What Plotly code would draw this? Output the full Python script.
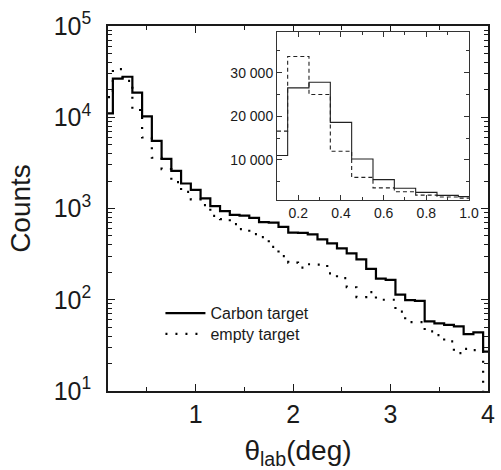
import plotly.graph_objects as go

# bin centres (deg)
theta = [round(0.1 * i, 1) for i in range(1, 41)]

carbon = [11000, 26500, 27800, 18600, 10200, 5500, 3500, 2580, 1880, 1600,
          1290, 1060, 935, 850, 835, 790, 710, 700, 630, 545,
          540, 520, 458, 414, 365, 322, 277, 218, 170, 165,
          114, 99, 97, 58, 55, 53, 51, 42, 44, 27]

empty = [16600, 33700, 25000, 12000, 6000, 3600, 2700, 1950, 1520, 1260,
         1090, 830, 765, 675, 594, 524, 485, 380, 300, 255,
         225, 245, 243, 195, 173, 137, 107, 121, 100, 100,
         74, 57, 57, 45, 41, 35, 26, 29, 28, 8]

inset_n = 10  # inset shows theta 0.1 .. 1.0 on linear scale

y_tickvals = [10, 100, 1000, 10000, 100000]
y_ticktext = ["10<sup>1</sup>", "10<sup>2</sup>", "10<sup>3</sup>", "10<sup>4</sup>", "10<sup>5</sup>"]
x_tickvals = [1, 2, 3, 4]
inset_xticks = [0.2, 0.4, 0.6, 0.8, 1.0]
inset_xtext = ["0.2", "0.4", "0.6", "0.8", "1.0"]
inset_yticks = [10000, 20000, 30000]
inset_ytext = ["10 000", "20 000", "30 000"]

FONT = "Arial, Liberation Sans, sans-serif"

fig = go.Figure()
fig.add_trace(go.Scatter(x=theta, y=carbon, mode="lines", line_shape="hvh",
                         line=dict(color="black", width=2.2),
                         name="Carbon target", xaxis="x", yaxis="y", legend="legend"))
fig.add_trace(go.Scatter(x=theta, y=empty, mode="lines", line_shape="hvh",
                         line=dict(color="black", width=2.2, dash="2px,8px"),
                         name="empty target", xaxis="x", yaxis="y", legend="legend2"))
fig.add_trace(go.Scatter(x=theta[:inset_n], y=carbon[:inset_n], mode="lines", line_shape="hvh",
                         line=dict(color="#222", width=1.1),
                         showlegend=False, xaxis="x2", yaxis="y2"))
fig.add_trace(go.Scatter(x=theta[:inset_n], y=empty[:inset_n], mode="lines", line_shape="hvh",
                         line=dict(color="#222", width=1.1, dash="4px,3px"),
                         showlegend=False, xaxis="x2", yaxis="y2"))

minor_log = [m * 10 ** e for e in range(1, 5) for m in range(2, 10)]

legend_style = dict(xanchor="left", yanchor="middle", bgcolor="rgba(0,0,0,0)",
                    borderwidth=0, itemwidth=40, font=dict(size=16, family=FONT))

fig.update_layout(
    width=501, height=470,
    margin=dict(l=108, r=13, t=26, b=79, autoexpand=False),
    paper_bgcolor="white", plot_bgcolor="white",
    font=dict(family=FONT, color="#1a1a1a"),
    showlegend=True,
    legend=dict(x=0.138, y=0.213, **legend_style),
    legend2=dict(x=0.138, y=0.156, **legend_style),
    xaxis=dict(range=[0.1, 4.0], domain=[0, 1], anchor="y", automargin=False,
               tickmode="array", tickvals=x_tickvals, ticks="inside", ticklen=7,
               tickwidth=1.2, tickcolor="#1a1a1a",
               minor=dict(tickvals=[0.5, 1.5, 2.5, 3.5], ticks="inside", ticklen=4,
                          tickcolor="#1a1a1a", showgrid=False),
               showline=True, linecolor="#1a1a1a", linewidth=1.5, mirror="allticks",
               showgrid=False, zeroline=False,
               tickfont=dict(size=25),
               title=dict(text="θ<sub>lab</sub>(deg)", font=dict(size=28))),
    yaxis=dict(type="log", range=[1, 5], domain=[0, 1], anchor="x", automargin=False,
               tickmode="array", tickvals=y_tickvals, ticktext=y_ticktext,
               ticks="inside", ticklen=7, tickwidth=1.2, tickcolor="#1a1a1a",
               minor=dict(tickvals=minor_log, ticks="inside", ticklen=4,
                          tickcolor="#1a1a1a", showgrid=False),
               showline=True, linecolor="#1a1a1a", linewidth=1.5, mirror="allticks",
               showgrid=False, zeroline=False,
               tickfont=dict(size=25), ticklabelstandoff=10,
               title=dict(text="Counts", font=dict(size=28))),
    xaxis2=dict(range=[0.1, 1.0], domain=[0.4447, 0.95], anchor="y2", automargin=False,
                tickmode="array", tickvals=inset_xticks, ticktext=inset_xtext,
                ticks="inside", ticklen=5, tickwidth=1, tickcolor="#333",
                minor=dict(tickvals=[0.1, 0.3, 0.5, 0.7, 0.9], ticks="inside", ticklen=3,
                           tickcolor="#333", showgrid=False),
                showline=True, linecolor="#333", linewidth=1, mirror="allticks",
                showgrid=False, zeroline=False,
                tickfont=dict(size=14)),
    yaxis2=dict(range=[800, 39300], domain=[0.523, 0.9836], anchor="x2", automargin=False,
                tickmode="array", tickvals=inset_yticks, ticktext=inset_ytext,
                ticks="inside", ticklen=5, tickwidth=1, tickcolor="#333",
                minor=dict(tickvals=[5000, 15000, 25000, 35000], ticks="inside", ticklen=3,
                           tickcolor="#333", showgrid=False),
                showline=True, linecolor="#333", linewidth=1, mirror="allticks",
                showgrid=False, zeroline=False,
                tickfont=dict(size=14)),
)

fig.write_html("out.html", config={"displayModeBar": False},
               post_script="document.body.style.margin='0';document.body.style.overflow='hidden';")
